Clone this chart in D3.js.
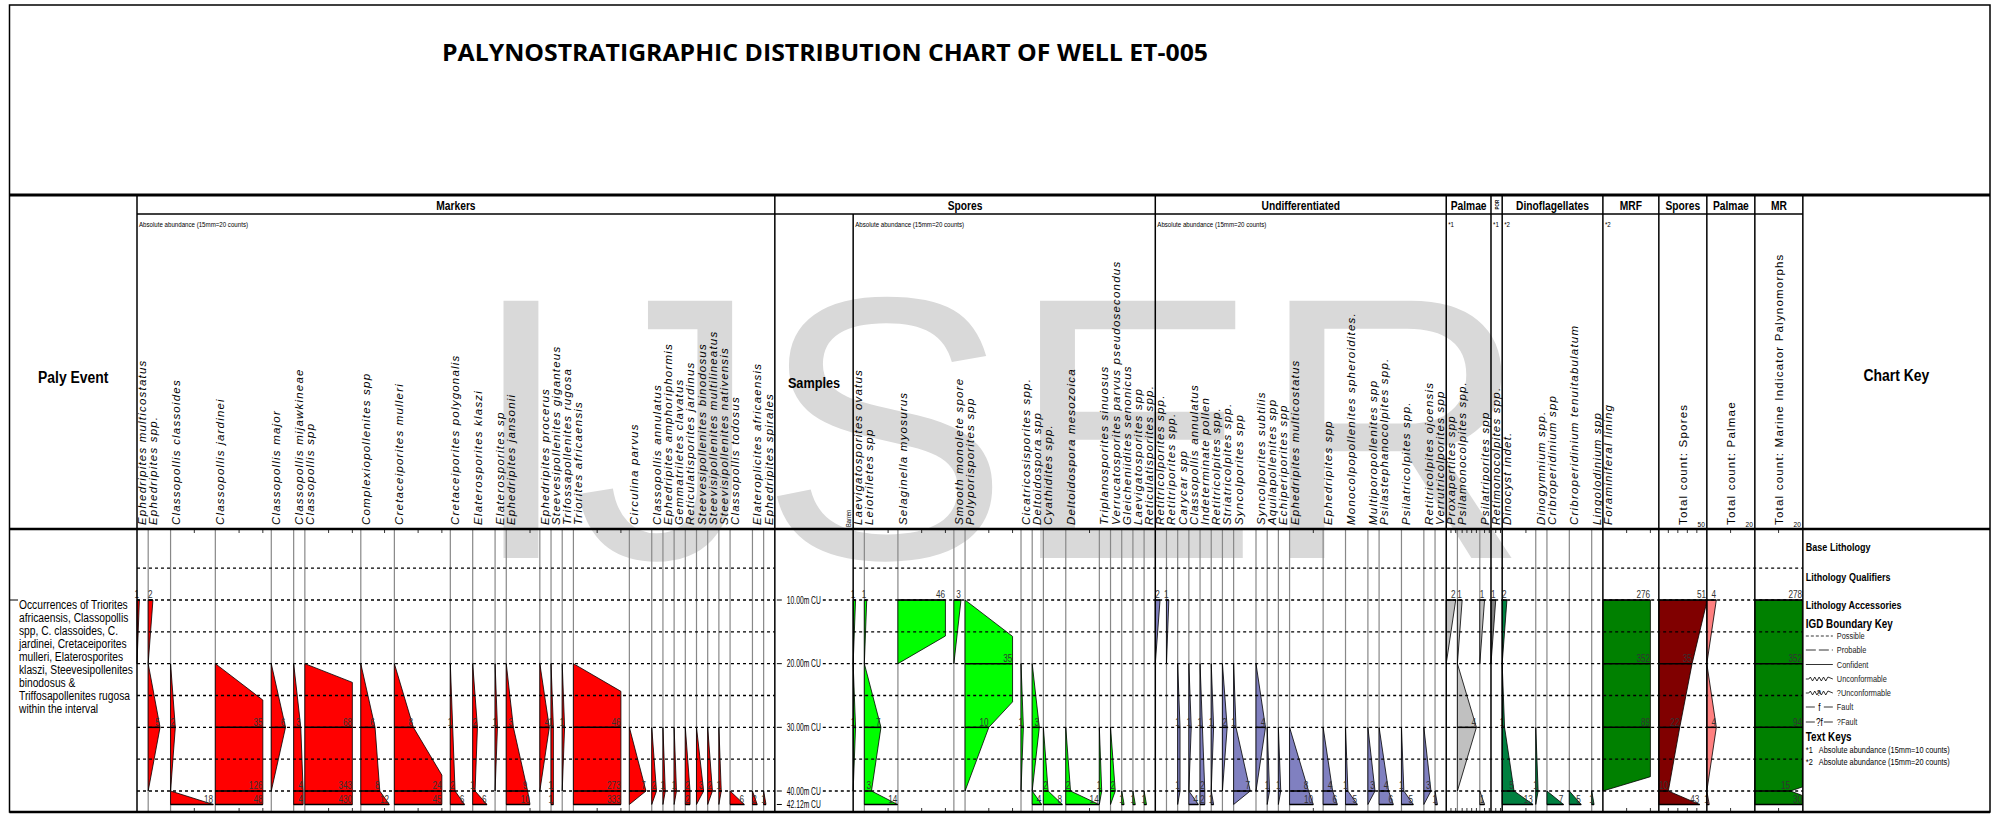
<!DOCTYPE html>
<html>
<head>
<meta charset="utf-8">
<script src="https://cdn.jsdelivr.net/npm/d3@7"></script>
<style>
  body {margin: 0; background: #fff;}
  svg {display: block;}
</style>
</head>
<body>
<svg id="chart" width="2009" height="836"></svg>
<script>
// sample depths (m) and their labels
const depths = [10, 20, 30, 40, 42.12];
const depthLabels = ["10.00m CU", "20.00m CU", "30.00m CU", "40.00m CU", "42.12m CU"];
const gridDepths = [5, 10, 15, 20, 25, 30, 35, 40];

// counts are per sample: [10m, 20m, 30m, 40m, 42.12m]
const markerTaxa = ["Ephedripites multicostatus", "Ephedripites spp.", "Classopollis classoides", "Classopollis jardinei",
    "Classopollis major", "Classopollis mijawkineae", "Classopollis spp", "Complexiopollenites spp",
    "Cretaceiporites mulleri", "Cretaceiporites polygonalis", "Elaterosporites klaszi", "Elaterosporites sp",
    "Ephedripites jansonii", "Ephedripites procerus", "Steevesipollenites giganteus", "Trifossapollenites rugosa",
    "Triorites africaensis", "Circulina parvus", "Classopollis annulatus", "Ephedripites amphoriphormis",
    "Gemmatriletes clavatus", "Reticulatisporites jardinus", "Steevesipollenites binodosus",
    "Steevisipollenites multilineatus", "Steevisipollenites nativensis", "Classopollis todosus",
    "Elateroplicites africaensis", "Ephedripites spirales"];
const markerCounts = [
    [1, 0, 0, 0, 0], [2, 0, 5, 0, 0], [0, 0, 2, 0, 18], [0, 0, 35, 126, 48],
    [0, 0, 6, 0, 0], [0, 0, 3, 4, 4], [0, 0, 68, 343, 430], [0, 0, 6, 8, 12],
    [0, 0, 8, 24, 45], [0, 0, 1, 2, 6], [0, 0, 2, 1, 6], [0, 0, 1, 0, 0],
    [0, 0, 3, 9, 10], [0, 0, 4, 0, 0], [0, 0, 1, 1, 1], [0, 0, 1, 0, 0],
    [0, 0, 46, 273, 333], [0, 0, 0, 7, 0], [0, 0, 0, 2, 0], [0, 0, 0, 1, 0],
    [0, 0, 0, 1, 0], [0, 0, 0, 2, 2], [0, 0, 0, 3, 0], [0, 0, 0, 2, 0],
    [0, 0, 0, 1, 0], [0, 0, 0, 0, 6], [0, 0, 0, 0, 2], [0, 0, 0, 0, 1]];

const sporeTaxa = ["Laevigatosporites ovatus", "Leiotriletes spp", "Selaginella myosurus", "Smooth monolete spore",
    "Polyporisporites spp", "Cicatricosisporites spp.", "Deltoidospora spp", "Cyathidites spp.",
    "Deltoidospora mesozoica", "Triplanosporites sinuosus", "Verrucatosporites parvus pseudosecondus",
    "Gleicheniidites senonicus", "Laevigatosporites spp", "Reticulatisporites spp."];
const sporeCounts = [
    [1, 0, 1, 0, 0], [1, 0, 7, 3, 14], [46, 0, 0, 0, 0], [3, 0, 0, 0, 0],
    [0, 35, 10, 0, 0], [0, 0, 1, 0, 0], [0, 0, 3, 0, 4], [0, 0, 0, 2, 8],
    [0, 0, 0, 2, 14], [0, 0, 0, 1, 0], [0, 0, 0, 2, 0], [0, 0, 0, 0, 1],
    [0, 0, 0, 0, 1], [0, 0, 0, 0, 1]];

const undiffTaxa = ["Retitricolporites spp.", "Retitriporites spp.", "Carycar spp", "Classopollis annulatus",
    "Indeterminate pollen", "Retitricolpites spp.", "Striatricolpites spp.", "Syncolporites spp",
    "Syncolporites subtilis", "Aquilapollenites spp", "Echiperiporites spp", "Ephedripites multicostatus",
    "Ephedripites spp", "Monocolpopollenites spheroidites.", "Multiporopollenites spp",
    "Psilastephanocolpites spp.", "Psilatricolpites spp.", "Retitricolpites ojoensis", "Verrutricolporites spp"];
const undiffCounts = [
    [2, 0, 0, 0, 0], [1, 0, 0, 0, 0], [0, 0, 1, 1, 0], [0, 0, 1, 0, 4],
    [0, 0, 1, 2, 2], [0, 0, 1, 0, 1], [0, 0, 2, 0, 0], [0, 0, 1, 7, 0],
    [0, 0, 4, 0, 0], [0, 0, 0, 1, 0], [0, 0, 0, 1, 0], [0, 0, 0, 8, 10],
    [0, 0, 0, 4, 6], [0, 0, 0, 1, 5], [0, 0, 0, 3, 0], [0, 0, 0, 4, 6],
    [0, 0, 0, 1, 5], [0, 0, 0, 3, 0], [0, 0, 0, 0, 1]];

const palmaeTaxa = ["Proxapertites spp", "Psilamonocolpites spp.", "Psilatriporites spp"];
const palmaeCounts = [[2, 0, 0, 0, 0], [1, 0, 4, 0, 0], [1, 0, 0, 0, 1]];

const porTaxa = ["Retimonocolpites spp."];
const porCounts = [[1, 0, 0, 0, 0]];

const dinoTaxa = ["Dinocyst indet.", "Dinogymnium spp.", "Cribroperidinium spp",
    "Cribroperidinium tenuitabulatum", "Lingolodinium spp"];
const dinoCounts = [[2, 0, 1, 5, 13], [0, 0, 0, 1, 0], [0, 0, 0, 0, 7], [0, 0, 0, 0, 5], [0, 0, 0, 0, 1]];

const mrfTaxa = ["Foraminiferal lining"];
const mrfCounts = [[276, 352, 89, 0, 0]];

const totalSpores = [51, 35, 22, 10, 43];
const totalPalmae = [4, 0, 4, 0, 1];
const totalMarine = [278, 352, 94, 15, 30];

const palyEvent = ["Occurrences of Triorites", "africaensis, Classopollis", "spp, C. classoides, C.",
    "jardinei, Cretaceiporites", "mulleri, Elaterosporites", "klaszi, Steevesipollenites",
    "binodosus &", "Triffosapollenites rugosa", "within the interval"];

const keyHeads = ["Base Lithology", "Lithology Qualifiers", "Lithology Accessories"];
const boundaryKey = ["Possible", "Probable", "Confident", "Unconformable", "?Unconformable", "Fault", "?Fault"];
const textKeys = [["*1", "Absolute abundance  (15mm=10 counts)"], ["*2", "Absolute abundance  (15mm=20 counts)"]];

// ---- layout (column widths in chart units) ----
const markerUnits = [1, 2, 4, 5, 2, 1, 5, 3, 5, 2, 2, 1, 3, 1, 1, 1, 5, 2, 1, 1, 1, 1, 1, 1, 1, 2, 1, 1];
const sporeUnits = [1, 3, 5, 1, 5, 1, 1, 2, 3, 1, 1, 1, 1, 1];
const undiffUnits = [1, 1, 1, 1, 1, 1, 1, 2, 1, 1, 1, 3, 2, 2, 1, 2, 2, 1, 1];
const palmaeUnits = [1, 2, 1];
const porUnits = [1];
const dinoUnits = [3, 1, 2, 2, 1];
const mrfUnits = [5];

const U = 11.19, W15 = 47.5, TOTW = 48;
const FR = {l: 9.5, r: 1990, t: 5};
const Y = {h1: 195, h2: 214, top: 529, bot: 812};
const X0 = 137;
const SANS = "'Liberation Sans', Arial, sans-serif";
const NS = 0.82;   // horizontal squeeze to get an Arial Narrow look

const svg = d3.select('#chart');
const yScale = d3.scaleLinear().domain([10, 40]).range([600, 791]);

// narrow text helper
function ntext(parent, x, y, size, weight) {
    return parent.append('text')
        .attr('transform', `translate(${x},${y}) scale(${NS},1)`)
        .attr('font-family', SANS).attr('font-size', size)
        .attr('font-weight', weight || 400);
}

// watermark behind everything
svg.append('text')
    .attr('x', 469).attr('y', 558)
    .attr('font-family', SANS).attr('font-size', 374)
    .attr('fill', '#d9d9d9')
    .text('IJSER');

let cursor = X0;
const blocks = [];
function addBlock(o) {
    const cols = [];
    let cx = cursor;
    o.taxa.forEach((t, i) => {
        const w = o.units ? o.units[i] * U : TOTW;
        cols.push({name: t, counts: o.counts[i], left: cx, width: w});
        cx += w;
    });
    const b = Object.assign({}, o, {x0: cursor, x1: cx, cols: cols});
    b.xs = d3.scaleLinear().domain([0, o.cap]).range([0, W15]);
    cursor = cx;
    blocks.push(b);
    return b;
}

const gMarkers = addBlock({taxa: markerTaxa, counts: markerCounts, units: markerUnits, cap: 20, tick: 10, fill: '#ff0000', note: 'Absolute abundance  (15mm=20 counts)'});
const samplesX0 = cursor;
cursor += 7 * U;
const samplesX1 = cursor;
const gSpores = addBlock({taxa: sporeTaxa, counts: sporeCounts, units: sporeUnits, cap: 20, tick: 10, fill: '#00ff00', note: 'Absolute abundance  (15mm=20 counts)'});
const gUndiff = addBlock({taxa: undiffTaxa, counts: undiffCounts, units: undiffUnits, cap: 20, tick: 10, fill: '#8080c0', note: 'Absolute abundance  (15mm=20 counts)'});
const gPalmae = addBlock({taxa: palmaeTaxa, counts: palmaeCounts, units: palmaeUnits, cap: 10, tick: 1, fill: '#c0c0c0', note: '*1'});
const gPor = addBlock({taxa: porTaxa, counts: porCounts, units: porUnits, cap: 10, tick: 1, fill: '#808080', note: '*1'});
const gDino = addBlock({taxa: dinoTaxa, counts: dinoCounts, units: dinoUnits, cap: 20, tick: 10, fill: '#008040', note: '*2'});
const gMrf = addBlock({taxa: mrfTaxa, counts: mrfCounts, units: mrfUnits, cap: 20, tick: 10, fill: '#008000', note: '*2'});
const gTS = addBlock({taxa: ['Total count: Spores'], counts: [totalSpores], cap: 50, tick: 10, fill: '#800000', total: true});
const gTP = addBlock({taxa: ['Total count: Palmae'], counts: [totalPalmae], cap: 20, tick: 10, fill: '#ff8080', total: true});
const gMR = addBlock({taxa: ['Total count: Marine Indicator Palynomorphs'], counts: [totalMarine], cap: 20, tick: 10, fill: '#008000', total: true});
const keyX0 = cursor;

const groups = [
    {title: 'Markers', x0: gMarkers.x0, x1: gMarkers.x1},
    {title: 'Spores', x0: samplesX0, x1: gSpores.x1},
    {title: 'Undifferentiated', x0: gUndiff.x0, x1: gUndiff.x1},
    {title: 'Palmae', x0: gPalmae.x0, x1: gPalmae.x1},
    {title: 'POR', x0: gPor.x0, x1: gPor.x1, tiny: true},
    {title: 'Dinoflagellates', x0: gDino.x0, x1: gDino.x1},
    {title: 'MRF', x0: gMrf.x0, x1: gMrf.x1},
    {title: 'Spores', x0: gTS.x0, x1: gTS.x1},
    {title: 'Palmae', x0: gTP.x0, x1: gTP.x1},
    {title: 'MR', x0: gMR.x0, x1: gMR.x1}
];

// ---- polygons ----
function runs(vals) {
    const out = [];
    let i = 0;
    while (i < vals.length) {
        if (vals[i] > 0) {
            let j = i;
            while (j + 1 < vals.length && vals[j + 1] > 0) j++;
            out.push([i, j]);
            i = j + 1;
        } else i++;
    }
    return out;
}

function clipPts(pts, cap) {
    const out = [];
    for (let i = 0; i < pts.length; i++) {
        const a = pts[i];
        out.push({d: a.d, v: Math.min(a.v, cap)});
        if (i < pts.length - 1) {
            const b = pts[i + 1];
            if ((a.v - cap) * (b.v - cap) < 0) {
                const t = (cap - a.v) / (b.v - a.v);
                out.push({d: a.d + t * (b.d - a.d), v: cap});
            }
        }
    }
    return out;
}

const gData = svg.append('g').attr('class', 'data');
const n = depths.length;

// column separators
blocks.forEach(b => {
    b.cols.forEach((c, i) => {
        if (i === 0) return;
        gData.append('line')
            .attr('x1', c.left).attr('x2', c.left)
            .attr('y1', Y.top).attr('y2', Y.bot)
            .attr('stroke', '#888').attr('stroke-width', 1.2);
    });
});

blocks.forEach(b => {
    b.cols.forEach(c => {
        const xv = v => c.left + b.xs(Math.min(v, b.cap));
        runs(c.counts).forEach(([i, j]) => {
            let pts = [];
            pts.push({d: depths[i > 0 ? i - 1 : i], v: 0});
            for (let k = i; k <= j; k++) pts.push({d: depths[k], v: c.counts[k]});
            pts.push({d: depths[j < n - 1 ? j + 1 : j], v: 0});
            pts = clipPts(pts, b.cap);
            const line = d3.line().x(p => c.left + b.xs(p.v)).y(p => yScale(p.d));
            gData.append('path')
                .attr('d', line(pts) + 'Z')
                .attr('fill', b.fill)
                .attr('stroke', '#000').attr('stroke-width', 0.8)
                .attr('stroke-linejoin', 'round');
        });
        // sample lines + counts
        c.counts.forEach((v, k) => {
            if (v <= 0) return;
            gData.append('line')
                .attr('x1', c.left).attr('x2', xv(v))
                .attr('y1', yScale(depths[k])).attr('y2', yScale(depths[k]))
                .attr('stroke', '#000').attr('stroke-width', 1.5);
            ntext(gData, xv(v) - 0.3, yScale(depths[k]) - 1.8, 10)
                .attr('text-anchor', 'end')
                .attr('fill', '#333')
                .text(v);
        });
        // scale ticks top and bottom
        for (let t = b.tick; b.xs(t) < c.width - 1; t += b.tick) {
            const tx = c.left + b.xs(t);
            gData.append('line').attr('x1', tx).attr('x2', tx).attr('y1', Y.top).attr('y2', Y.top + 4)
                .attr('stroke', '#000').attr('stroke-width', 0.8);
            gData.append('line').attr('x1', tx).attr('x2', tx).attr('y1', Y.bot - 4).attr('y2', Y.bot)
                .attr('stroke', '#000').attr('stroke-width', 0.8);
        }
    });
});

// dashed depth grid
const gGrid = svg.append('g').attr('class', 'grid');
gridDepths.forEach(d => {
    const yy = yScale(d);
    const segs = [[X0, samplesX0], [samplesX1, keyX0]];
    if (depths.indexOf(d) >= 0) segs.push([samplesX0 + 48, samplesX1]);
    segs.forEach(([a, b]) => {
        gGrid.append('line')
            .attr('x1', a).attr('x2', b).attr('y1', yy).attr('y2', yy)
            .attr('stroke', '#000').attr('stroke-width', 1.4)
            .attr('stroke-dasharray', '3,3');
    });
});

// samples column
const gSamples = svg.append('g');
depths.forEach((d, k) => {
    const yy = yScale(d);
    gSamples.append('line').attr('x1', samplesX0 + 2).attr('x2', samplesX0 + 7)
        .attr('y1', yy).attr('y2', yy).attr('stroke', '#000').attr('stroke-width', 1);
    gSamples.append('text')
        .attr('x', samplesX0 + 12).attr('y', yy + 3.5)
        .attr('font-family', SANS).attr('font-size', 10)
        .attr('textLength', 34).attr('lengthAdjust', 'spacingAndGlyphs')
        .text(depthLabels[k]);
});

// ---- frame and section lines ----
const gFrame = svg.append('g');
function hline(y, x1, x2, w) {
    gFrame.append('line').attr('x1', x1).attr('x2', x2).attr('y1', y).attr('y2', y)
        .attr('stroke', '#000').attr('stroke-width', w);
}
function vline(x, y1, y2, w) {
    gFrame.append('line').attr('x1', x).attr('x2', x).attr('y1', y1).attr('y2', y2)
        .attr('stroke', '#000').attr('stroke-width', w);
}
gFrame.append('rect')
    .attr('x', FR.l).attr('y', FR.t)
    .attr('width', FR.r - FR.l).attr('height', Y.bot - FR.t)
    .attr('fill', 'none').attr('stroke', '#000').attr('stroke-width', 1.5);
hline(Y.h1, FR.l, FR.r, 3);
hline(Y.h2, X0, keyX0, 1.5);
hline(Y.top, FR.l, FR.r, 2.5);
hline(Y.bot, FR.l, FR.r, 2.5);
vline(X0, Y.h1, Y.bot, 1.5);
groups.forEach(g => vline(g.x1, Y.h1, Y.bot, 1.5));
vline(samplesX1, Y.h2, Y.bot, 1.5);

// ---- header texts ----
const gHead = svg.append('g');
gHead.append('text')
    .attr('x', 442).attr('y', 61)
    .attr('font-family', "'Open Sans', sans-serif").attr('font-weight', 700).attr('font-size', 24)
    .attr('textLength', 766).attr('lengthAdjust', 'spacingAndGlyphs')
    .text('PALYNOSTRATIGRAPHIC DISTRIBUTION CHART OF WELL ET-005');

groups.forEach(g => {
    if (g.tiny) {
        gHead.append('text')
            .attr('transform', `translate(${(g.x0 + g.x1) / 2 + 2},${(Y.h1 + Y.h2) / 2}) rotate(-90) scale(${NS},1)`)
            .attr('text-anchor', 'middle')
            .attr('font-family', SANS).attr('font-size', 5.5).attr('font-weight', 700)
            .text(g.title);
        return;
    }
    ntext(gHead, (g.x0 + g.x1) / 2, 210, 12.5, 700)
        .attr('text-anchor', 'middle')
        .text(g.title);
});

[['Paly Event', (FR.l + X0) / 2, 383, 17], ['Samples', (samplesX0 + samplesX1) / 2, 388, 15.5], ['Chart Key', (keyX0 + FR.r) / 2, 381, 17]]
    .forEach(([t, x, y, s]) => {
        ntext(gHead, x, y, s, 700).attr('text-anchor', 'middle').text(t);
    });

blocks.forEach(b => {
    if (b.note) {
        ntext(gHead, b.x0 + 2, 227, 7.5).text(b.note);
    }
    b.cols.forEach(c => {
        const tx = b.total ? c.left + c.width / 2 + 4 : c.left + 9;
        gHead.append('text')
            .attr('transform', `translate(${tx},525) rotate(-90)`)
            .attr('font-family', SANS).attr('font-size', 11.5)
            .attr('font-style', b.total ? 'normal' : 'italic')
            .attr('letter-spacing', 1.2)
            .text(c.name);
        if (b.total) {
            ntext(gHead, c.left + c.width - 2, 527, 8).attr('text-anchor', 'end').text(b.cap);
        }
    });
});

gHead.append('text')
    .attr('transform', `translate(${samplesX1 - 2},527) rotate(-90) scale(${NS},1)`)
    .attr('font-family', SANS).attr('font-size', 7)
    .text('Barren');

// paly event
const gPaly = svg.append('g');
gPaly.append('line').attr('x1', FR.l).attr('x2', 18).attr('y1', yScale(10)).attr('y2', yScale(10))
    .attr('stroke', '#000').attr('stroke-width', 1);
gPaly.append('text')
    .attr('transform', `translate(19,0) scale(${NS},1)`)
    .attr('font-family', SANS).attr('font-size', 12.5)
    .selectAll('tspan').data(palyEvent).enter().append('tspan')
    .attr('x', 0).attr('y', (d, i) => 609 + i * 13)
    .text(d => d);

// ---- chart key ----
const gKey = svg.append('g');
const kx = keyX0 + 3;
[[keyHeads[0], 551], [keyHeads[1], 581], [keyHeads[2], 609], ['IGD Boundary Key', 628], ['Text Keys', 741]]
    .forEach(([t, y], i) => {
        ntext(gKey, kx, y, i > 2 ? 12 : 11, 700).text(t);
    });
const keyY = [636, 650, 664.5, 679, 693, 707, 722];
boundaryKey.forEach((t, i) => {
    const yy = keyY[i];
    const x1 = kx, x2 = kx + 27;
    const ln = (a, b, dash) => gKey.append('line').attr('x1', a).attr('x2', b).attr('y1', yy).attr('y2', yy)
        .attr('stroke', '#000').attr('stroke-width', 0.8).attr('stroke-dasharray', dash || null);
    if (i === 0) ln(x1, x2, '3,2');
    else if (i === 1) ln(x1, x2, '10,3');
    else if (i === 2) ln(x1, x2);
    else if (i === 3 || i === 4) {
        const pts = [[x1, yy], [x1 + 3, yy]];
        for (let k = 0; k < 9; k++) pts.push([x1 + 4.5 + k * 2.2, yy + (k % 2 ? 2 : -2)]);
        pts.push([x2, yy]);
        gKey.append('path').attr('d', d3.line()(pts)).attr('fill', 'none').attr('stroke', '#000').attr('stroke-width', 0.8);
        if (i === 4) ntext(gKey, x1 + 13, yy + 3, 9).attr('text-anchor', 'middle').text('?');
    } else {
        ln(x1, x1 + 9); ln(x1 + 18, x2);
        ntext(gKey, x1 + 13.5, yy + 3.5, 10).attr('text-anchor', 'middle').text(i === 6 ? '?f' : 'f');
    }
    ntext(gKey, kx + 31, yy + 3, 9).attr('fill', '#222').text(t);
});
textKeys.forEach(([a, b], i) => {
    const yy = 753 + i * 12;
    ntext(gKey, kx, yy, 9).text(a);
    ntext(gKey, kx + 13, yy, 9).text(b);
});
</script>
</body>
</html>
